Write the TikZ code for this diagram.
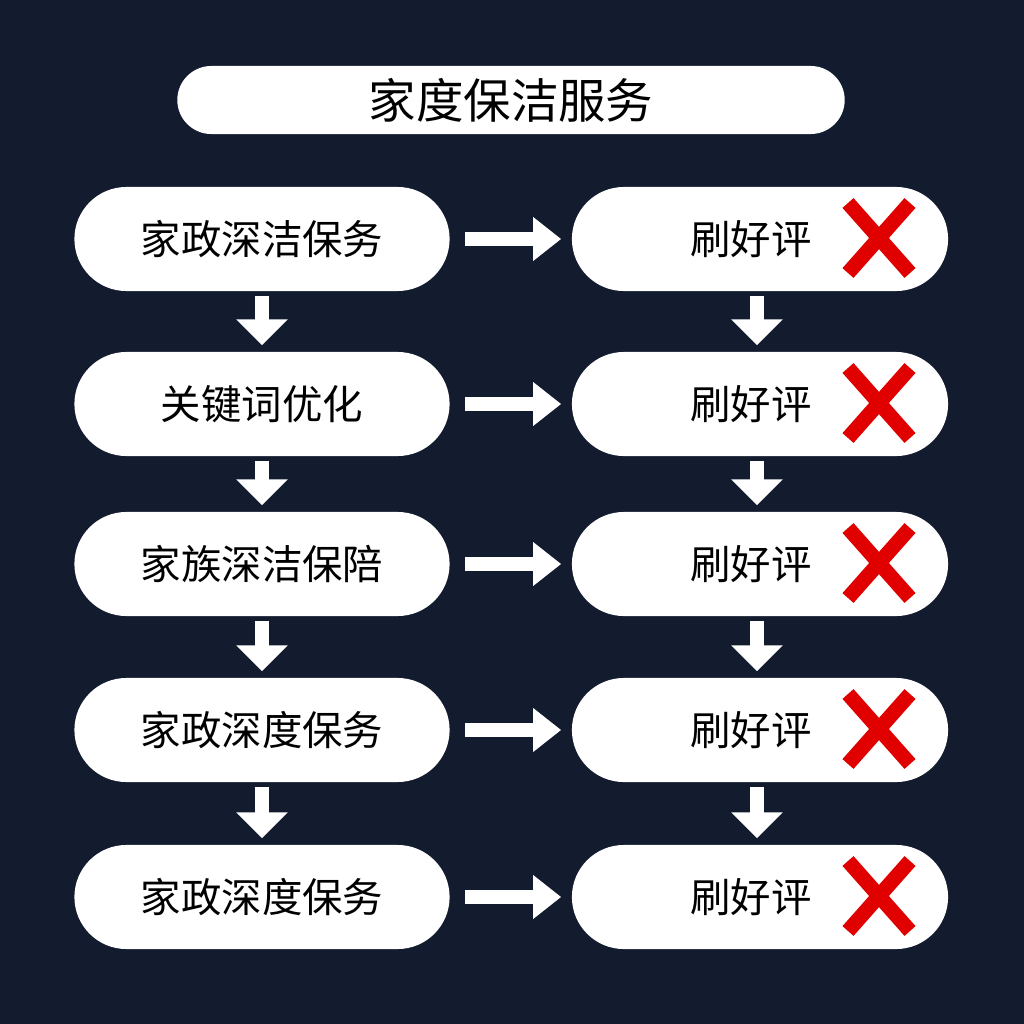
\documentclass[tikz,border=0pt]{standalone}
\usepackage{fontspec}
\newfontfamily\cjk{Noto Sans CJK SC}
\usetikzlibrary{arrows.meta,positioning}
\definecolor{bgnavy}{HTML}{131B2E}
\definecolor{crossred}{HTML}{E00000}
\tikzset{
  pill/.style={draw=none, fill=white, rounded corners=0.52cm, minimum height=1.04cm, inner sep=0pt, font=\cjk\fontsize{11.5}{13}\selectfont},
  flowarrow/.style={draw=white, line width=4pt, -{Triangle[length=0.28cm, width=0.42cm]}},
  downarrow/.style={draw=white, line width=4pt, -{Triangle[length=0.26cm, width=0.5cm]}},
  cross/.style={draw=crossred, line width=4.2pt}
}
\begin{document}
\begin{tikzpicture}[x=0.01cm, y=-0.01cm]
  \fill[bgnavy] (0,0) rectangle (1024,1024);
  \useasboundingbox (0,0) rectangle (1024,1024);

  % title
  \node[pill, minimum width=6.67cm, minimum height=0.68cm, rounded corners=0.34cm, font=\cjk\fontsize{13.5}{15}\selectfont] (title) at (511,100) {家度保洁服务};

  % rows
  \def\rowys{239,404,564,730,897}
  \foreach \lbl [count=\i] in {家政深洁保务, 关键词优化, 家族深洁保陪, 家政深度保务, 家政深度保务} {
    \pgfmathsetmacro{\yy}{{\rowys}[\i-1]}
    \node[pill, minimum width=3.75cm] (left\i) at (262,\yy) {\lbl};
    \node[pill, minimum width=3.76cm] (right\i) at (760,\yy) {};
    \node[font=\cjk\fontsize{11.5}{13}\selectfont] (rate\i) at (751,\yy) {刷好评};
    \draw[cross] (848,\yy-36) -- (910,\yy+34);
    \draw[cross] (910,\yy-36) -- (848,\yy+34);
    \draw[flowarrow, shorten <=0.15cm, shorten >=0.1cm] (left\i.east) -- (right\i.west);
  }

  % down arrows
  \foreach \i [evaluate=\i as \j using int(\i+1)] in {1,...,4} {
    \draw[downarrow, shorten <=0.04cm, shorten >=0.06cm] (left\i.south) -- (left\j.north);
    \draw[downarrow, shorten <=0.04cm, shorten >=0.06cm] ([xshift=-0.03cm]right\i.south) -- ([xshift=-0.03cm]right\j.north);
  }
\end{tikzpicture}
\end{document}
